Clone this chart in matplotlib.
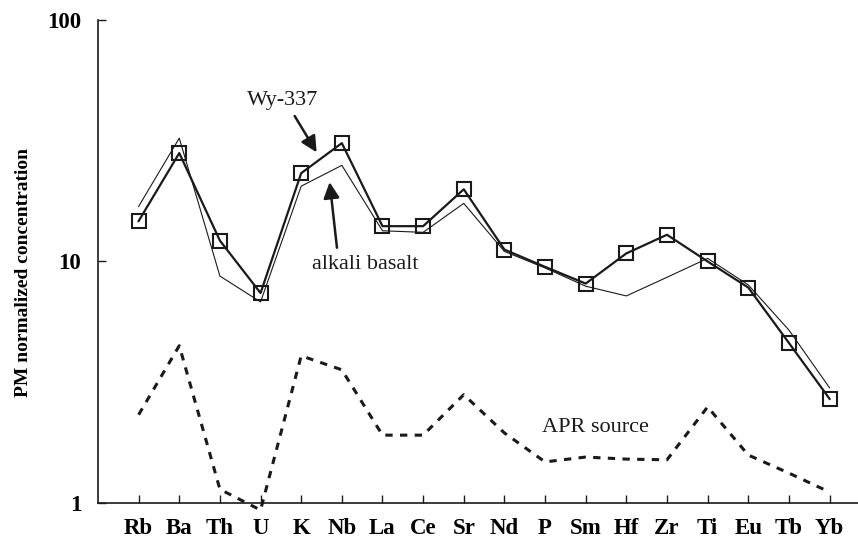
import numpy as np
import matplotlib
matplotlib.use('Agg')
import matplotlib.pyplot as plt
from matplotlib.ticker import NullLocator

plt.rcParams['font.family'] = ['Liberation Serif', 'DejaVu Serif']

# Elements along the x axis
elements = ['Rb', 'Ba', 'Th', 'U', 'K', 'Nb', 'La', 'Ce', 'Sr', 'Nd',
            'P', 'Sm', 'Hf', 'Zr', 'Ti', 'Eu', 'Tb', 'Yb']

# Primitive-mantle normalized values
wy337 = [14.7, 28.1, 12.2, 7.4, 23.2, 30.9, 14.0, 14.0, 19.9, 11.2,
         9.5, 8.1, 10.8, 12.9, 10.0, 7.8, 4.6, 2.7]
alkali_basalt = [16.9, 32.4, 8.7, 6.8, 20.5, 25.0, 13.4, 13.2, 17.4, 11.0,
                 9.4, 7.9, 7.2, 8.6, 10.3, 8.0, 5.2, 3.0]
apr_source = [2.32, 4.48, 1.14, 0.935, 4.07, 3.56, 1.91, 1.91, 2.81, 1.95,
              1.48, 1.55, 1.52, 1.51, 2.50, 1.58, 1.33, 1.11]

ink = '#1a1a1a'
x = np.arange(len(elements))

fig = plt.figure(figsize=(8.58, 5.38), dpi=100)
ax = fig.add_axes([0.1142, 0.065, 0.8858, 0.898])

# Thin alkali basalt line underneath, thick sample line with open squares on top
ax.plot(x, alkali_basalt, color=ink, lw=0.8)
ax.plot(x, wy337, color=ink, lw=1.6, marker='s', markersize=9.5,
        markerfacecolor='none', markeredgecolor=ink, markeredgewidth=1.5)
ax.plot(x, apr_source, color=ink, lw=2.2, linestyle=(0, (2.4, 2.4)),
        clip_on=False)

ax.set_yscale('log')
ax.set_ylim(1, 100)
ax.set_xlim(-1, 17.7)
ax.set_yticks([1, 10, 100])
ax.set_yticklabels(['1', '10', '100'])
ax.yaxis.set_minor_locator(NullLocator())
ax.set_xticks(x)
ax.set_xticklabels(elements)

for s in ['top', 'right']:
    ax.spines[s].set_visible(False)
for s in ['left', 'bottom']:
    ax.spines[s].set_linewidth(1.2)
    ax.spines[s].set_color(ink)

ax.tick_params(axis='both', direction='in', length=6, width=1.0, color=ink,
               labelsize=16.5, pad=11)
ax.tick_params(axis='y', pad=12)
for lab in ax.get_xticklabels() + ax.get_yticklabels():
    lab.set_fontweight('bold')

ax.set_ylabel('PM normalized concentration', fontsize=14, fontweight='bold')
ax.yaxis.set_label_coords(-0.087, 0.478)

# Labels and arrows
arrow = dict(arrowstyle='-|>', lw=1.8, color=ink, mutation_scale=24,
             shrinkA=0, shrinkB=0)
ax.text(3.55, 46.6, 'Wy-337', fontsize=16, ha='center', va='center', color=ink)
ax.annotate('', xy=(4.38, 28.3), xytext=(3.84, 40.0), arrowprops=arrow)
ax.text(5.57, 9.7, 'alkali basalt', fontsize=16, ha='center', va='center',
        color=ink)
ax.annotate('', xy=(4.70, 21.3), xytext=(4.88, 11.4), arrowprops=arrow)
ax.text(11.23, 2.05, 'APR source', fontsize=16, ha='center', va='center',
        color=ink)

fig.savefig('out.png', dpi=100)
